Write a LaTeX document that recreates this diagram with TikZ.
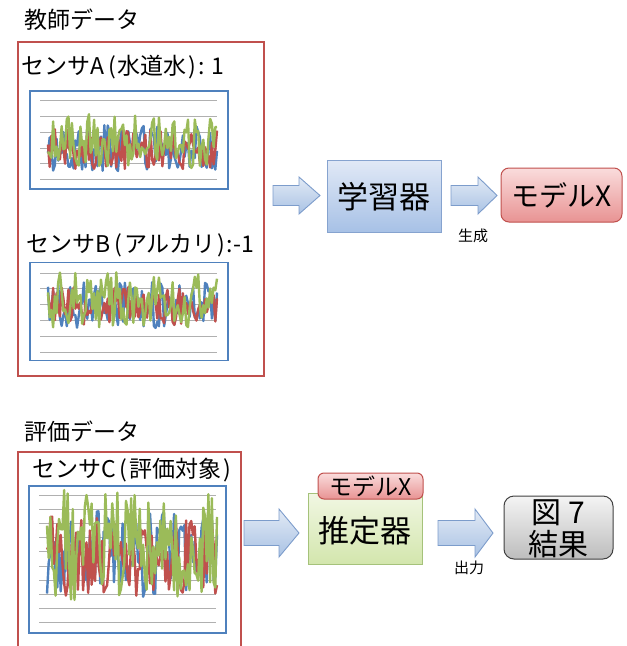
\documentclass[tikz,border=0pt]{standalone}
\usepackage{fontspec}
\setmainfont{Noto Sans CJK JP}
\definecolor{frameRed}{HTML}{C0504D}
\definecolor{chartBlue}{HTML}{4F81BD}
\definecolor{serBlue}{HTML}{4F81BD}
\definecolor{serRed}{HTML}{C0504D}
\definecolor{serGreen}{HTML}{9BBB59}
\definecolor{gridGray}{HTML}{B0B0B0}
\definecolor{arrTop}{HTML}{E2EAF5}
\definecolor{arrBot}{HTML}{A9C2E4}
\definecolor{arrLine}{HTML}{7C9CCB}
\definecolor{learnTop}{HTML}{E1E9F6}
\definecolor{learnBot}{HTML}{A7C1E6}
\definecolor{learnLine}{HTML}{86A3CF}
\definecolor{modelTop}{HTML}{FADCDC}
\definecolor{modelBot}{HTML}{E89393}
\definecolor{modelLine}{HTML}{C0504D}
\definecolor{estTop}{HTML}{F1F7E3}
\definecolor{estBot}{HTML}{D3E6AD}
\definecolor{estLine}{HTML}{A5C27A}
\definecolor{resTop}{HTML}{F4F4F4}
\definecolor{resBot}{HTML}{BDBDBD}
\definecolor{resLine}{HTML}{404040}
\tikzset{
  lbl/.style={inner sep=0pt, font=\fontsize{23}{27}\selectfont},
  small/.style={inner sep=0pt, font=\fontsize{15}{17}\selectfont},
  datframe/.style={draw=frameRed, line width=1.3pt, inner sep=0pt},
  chartframe/.style={draw=chartBlue, line width=1.4pt, inner sep=0pt},
  gridln/.style={draw=gridGray, line width=1pt},
  ser/.style={line width=2.4pt, line join=round},
  arrowfill/.style={top color=arrTop, bottom color=arrBot, draw=arrLine, line width=0.9pt},
  learnbox/.style={top color=learnTop, bottom color=learnBot, draw=learnLine, line width=1pt, inner sep=0pt},
  modelbox/.style={top color=modelTop, bottom color=modelBot, draw=modelLine, line width=1pt, rounded corners=8pt, inner sep=0pt},
  estbox/.style={top color=estTop, bottom color=estBot, draw=estLine, line width=1pt, inner sep=0pt},
  resbox/.style={top color=resTop, bottom color=resBot, draw=resLine, line width=1pt, rounded corners=10pt, inner sep=0pt, align=center}
}
\newcommand\barrowshape[6]{%
  \shade[arrowfill] (#1,#4-#5) -- (#2,#4-#5) -- (#2,#4-#6) -- (#3,#4) -- (#2,#4+#6) -- (#2,#4+#5) -- (#1,#4+#5) -- cycle;}
\newcommand\lp{\hspace{4pt}(\hspace{2pt}}
\newcommand\rp{\hspace{2pt})\hspace{2pt}}
\begin{document}
\begin{tikzpicture}[x=1pt,y=-1pt]
\useasboundingbox (0,0) rectangle (627,646);
\pgfmathsetseed{7}
% ---------- teacher data ----------
\node[lbl, anchor=west] (kyoshi) at (24,20) {教師データ};
\node[datframe, minimum width=246pt, minimum height=334pt] (trainframe) at (141,209) {};
\node[lbl, anchor=west] (labA) at (21,67) {センサA\lp 水道水\rp: 1};
\node[chartframe, minimum width=198pt, minimum height=98pt] (chartA) at (129,140) {};
\foreach \k in {0,...,5} \draw[gridln] (40,100.7+15.8*\k) -- (217,100.7+15.8*\k);
\draw[ser, serBlue] plot[domain=48:217, samples=100, variable=\t] (\t,{148+23*rand});
\draw[ser, serRed] plot[domain=48:217, samples=100, variable=\t] (\t,{149+20*rand});
\draw[ser, serGreen] plot[domain=48:217, samples=100, variable=\t] (\t,{141+28*rand});

\node[lbl, anchor=west] (labB) at (26,245) {センサB\lp アルカリ\rp:-1};
\node[chartframe, minimum width=198pt, minimum height=98pt] (chartB) at (129,311.5) {};
\foreach \k in {0,...,5} \draw[gridln] (40,273+15.8*\k) -- (217,273+15.8*\k);
\draw[ser, serBlue] plot[domain=48:217, samples=100, variable=\t] (\t,{305+23*rand});
\draw[ser, serRed] plot[domain=48:217, samples=100, variable=\t] (\t,{306+19*rand});
\draw[ser, serGreen] plot[domain=48:217, samples=100, variable=\t] (\t,{300+28*rand});

% ---------- learner ----------
\barrowshape{273}{299}{320}{195.5}{10}{18.5}
\node[learnbox, minimum width=114pt, minimum height=72pt] (learner) at (384,196) {};
\node[inner sep=0pt, font=\fontsize{31}{35}\selectfont] (learnerTxt) at (384,197) {学習器};
\barrowshape{451}{478}{497}{195.5}{10}{18.5}
\node[modelbox, minimum width=121pt, minimum height=54pt] (modelX) at (561.5,195) {};
\node[inner sep=0pt, font=\fontsize{28}{32}\selectfont] (modelXTxt) at (561.5,195) {モデルX};
\node[small] (gen) at (473,236) {生成};

% ---------- evaluation data ----------
\node[lbl, anchor=west] (hyoka) at (24,432) {評価データ};
\draw[frameRed, line width=1.3pt] (18,650) -- (18,452) -- (241,452) -- (241,650);
\coordinate (evalframe) at (129.5,550);
\node[lbl, anchor=west] (labC) at (32,470) {センサC\lp 評価対象\rp};
\node[chartframe, minimum width=197pt, minimum height=147pt] (chartC) at (127.5,559.5) {};
\foreach \k in {0,...,9} \draw[gridln] (39,495+14.2*\k) -- (216,495+14.2*\k);
\draw[ser, serBlue] plot[domain=47:217, samples=100, variable=\t] (\t,{555+44*rand});
\draw[ser, serRed] plot[domain=47:217, samples=100, variable=\t] (\t,{556+40*rand});
\draw[ser, serGreen] plot[domain=47:217, samples=100, variable=\t] (\t,{545+55*rand});

% ---------- estimator ----------
\barrowshape{244}{279}{299}{533}{12.5}{24}
\node[estbox, minimum width=114pt, minimum height=71pt] (estimator) at (365,528.5) {};
\node[inner sep=0pt, font=\fontsize{31}{35}\selectfont] (estTxt) at (365,531) {推定器};
\node[modelbox, rounded corners=6pt, minimum width=105pt, minimum height=26pt] (tagX) at (370.5,486) {};
\node[inner sep=0pt, font=\fontsize{23}{27}\selectfont] (tagXTxt) at (370.5,486) {モデルX};
\barrowshape{438}{475}{493}{533}{12.5}{24}
\node[resbox, minimum width=109pt, minimum height=63pt] (result) at (558.5,527.5) {};
\node[inner sep=0pt, font=\fontsize{30}{32}\selectfont, align=center] (resTxt) at (558.5,529) {図 7\\結果};
\node[small] (outp) at (469,568) {出力};
\end{tikzpicture}
\end{document}
